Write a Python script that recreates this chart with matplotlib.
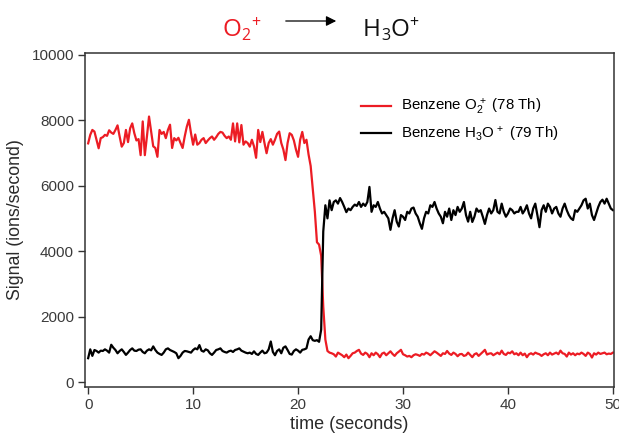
import numpy as np
import matplotlib
matplotlib.use("Agg")
import matplotlib.pyplot as plt

# ---------------- data ----------------
dt = 0.2
o2_signal = [
    7290, 7550, 7700, 7650, 7400, 7140, 7450, 7480, 7550, 7520,
    7690, 7620, 7580, 7700, 7840, 7500, 7190, 7300, 7700, 7330,
    7750, 7900, 7600, 7380, 7420, 6930, 7960, 6930, 7500, 8110,
    7650, 7200, 7150, 6880, 7700, 7580, 7640, 7450, 7700, 7860,
    7150, 7450, 7380, 7460, 7300, 7150, 7500, 7800, 8010, 7600,
    7250, 7560, 7250, 7300, 7400, 7450, 7300, 7380, 7450, 7500,
    7400, 7480, 7580, 7640, 7620, 7520, 7450, 7500, 7400, 7900,
    7350, 7900, 7320, 7850, 7250, 7350, 7300, 7190, 7400, 7200,
    6850, 7700, 7330, 7640, 7300, 6990, 7300, 7420, 7250, 7400,
    7580, 7650, 7300, 7100, 6780, 7300, 7600, 7550, 7380, 7100,
    6880, 7400, 7640, 7300, 7400, 6950, 6600, 5900, 5200, 4270,
    4200, 3860, 2300, 1300, 950, 900, 880,
    850, 780, 900, 860, 820, 760, 840, 730, 800, 880,
    900, 950, 985, 870, 830, 900, 860, 760, 880, 820,
    900, 850, 760, 870, 900, 820, 880, 940, 860, 800,
    880, 930, 985, 850, 820, 780, 800, 760, 820, 850,
    830, 800, 860, 840, 900, 870, 820, 880, 940, 900,
    850, 800, 880, 860, 950, 870, 830, 900, 860, 790,
    850, 860, 800, 820, 900, 830, 760, 850, 880, 800,
    860, 920, 985, 840, 870, 880, 820, 860, 900, 850,
    960, 860, 830, 900, 880, 940, 850, 880, 820, 900,
    820, 870, 760, 850, 880, 840, 900, 870, 850, 800,
    850, 880, 820, 900, 840, 870, 900, 850, 960, 880,
    860, 780, 900, 840, 880, 820, 870, 850, 900, 860,
    800, 900, 860, 750, 880, 840, 900, 860, 880, 900,
    850, 870, 860, 900,
]
h3o_signal = [
    730, 1000, 800, 980, 950, 900, 960, 950, 1000, 960,
    900, 1140, 1050, 980, 880, 950, 1000, 920, 830, 900,
    980, 1030, 960, 950, 990, 1000, 920, 880, 960, 1000,
    970, 1090, 980, 900, 860, 830, 900, 1000, 1030, 980,
    950, 920, 880, 730, 800, 900, 950, 940, 920, 900,
    980, 1030, 1000, 1130, 960, 930, 1000, 970, 880, 830,
    900, 980, 1000, 1030, 950, 920, 900, 940, 960, 920,
    980, 1000, 1030, 960, 930, 900, 880, 900, 860, 940,
    860, 830, 900, 960, 880, 900, 1000, 1240, 920, 820,
    950, 1000, 880, 1050, 1090, 980, 860, 840, 950, 1000,
    960, 900, 985, 1000, 1030, 1300, 1400, 1280, 1260, 1280,
    1230, 1600,
    4600, 5400, 5000, 5550, 5250, 5500, 5550, 5450, 5620, 5500,
    5350, 5190, 5300, 5250, 5350, 5420, 5380, 5500, 5350, 5450,
    5380, 5500, 5960, 5200, 5400, 5350, 5500, 5300, 5150, 5200,
    5100, 5000, 4650, 5000, 5250, 4900, 4750, 5100, 5050, 4950,
    5200, 5150, 5300, 5330, 5150, 5050, 4850, 4680, 5000, 5200,
    5150, 5400, 5350, 5500, 5300, 5150, 5050, 4850, 5200, 5050,
    5300, 4950, 5250, 5100, 5350, 5200, 5300, 5500, 5100, 4900,
    5200, 4890, 5050, 5300, 5200, 5250, 5050, 4830, 5100, 5300,
    5150, 5250, 5560, 5200, 5150, 5450, 5200, 5050, 5150, 5300,
    5250, 5150, 5200, 5200, 5350, 5150, 5250, 5400, 5150, 5000,
    5300, 5450, 5100, 4730, 5250, 5400, 5200, 5450, 5350, 5150,
    5300, 5350, 5150, 5050, 5300, 5450, 5250, 5100, 5000, 4950,
    5250, 5200, 5300, 5400, 5550, 5600, 5300, 5450, 5100, 4950,
    5150, 5350, 5500, 5570, 5450, 5600, 5450, 5300, 5250,
]
series_labels = [r"Benzene O$_2^{\,+}$ (78 Th)", r"Benzene H$_3$O$^{\,+}$ (79 Th)"]
x_ticks = [0, 10, 20, 30, 40, 50]
y_ticks = [0, 2000, 4000, 6000, 8000, 10000]

t_o2 = np.arange(len(o2_signal)) * dt
t_h3o = np.arange(len(h3o_signal)) * dt

# ---------------- style ----------------
plt.rcParams['font.family'] = ['Liberation Sans', 'DejaVu Sans']
plt.rcParams['mathtext.fontset'] = 'custom'
plt.rcParams['mathtext.rm'] = 'Liberation Sans'
plt.rcParams['mathtext.it'] = 'Liberation Sans'
plt.rcParams['mathtext.bf'] = 'Liberation Sans'

RED = '#ec1c24'
W, H = 619, 437
fig = plt.figure(figsize=(W / 100, H / 100), dpi=100)
ax = fig.add_axes([85 / W, 1 - 387 / H, (614 - 85) / W, (387 - 53) / H])

ax.plot(t_o2, o2_signal, color=RED, lw=1.6, label=series_labels[0])
ax.plot(t_h3o, h3o_signal, color='black', lw=1.6, label=series_labels[1])

ax.set_xlim(-0.3, 50.1)
ax.set_ylim(-150, 10050)
ax.set_xticks(x_ticks)
ax.set_yticks(y_ticks)
ax.tick_params(axis='both', direction='out', length=5, width=1, colors='#333333',
               labelsize=11, labelcolor='#3a3a3a', pad=3)
for s in ax.spines.values():
    s.set_color('#333333')
    s.set_linewidth(1.1)

ax.set_xlabel('time (seconds)', fontsize=13, color='#2a2a2a', labelpad=3)
ax.set_ylabel('Signal (ions/second)', fontsize=12.8, color='#2a2a2a', labelpad=5)

leg = ax.legend(loc='upper left', bbox_to_anchor=(0.51, 0.885), frameon=False,
                fontsize=10.8, handlelength=2.0, handletextpad=0.7,
                labelspacing=0.5, borderaxespad=0)

# ---------------- title: O2+ ---> H3O+ ----------------
fig.canvas.draw()
renderer = fig.canvas.get_renderer()

def chain(x0, pieces, color):
    """pieces: (text, size, baseline_y_px, gap_after_px)"""
    x = x0
    for s, size, yb, gap in pieces:
        t = fig.text(x / W, 1 - yb / H, s, fontsize=size, color=color,
                     family='Open Sans', ha='left', va='baseline')
        bb = t.get_window_extent(renderer=renderer)
        x += bb.width + gap

chain(222, [('O', 17.5, 36, 0), ('2', 11.5, 40, 1), ('+', 11.5, 27, 0)], RED)
chain(363, [('H', 17.5, 36, 0), ('3', 11.5, 40, 0), ('O', 17.5, 36, 0), ('+', 11.5, 27, 0)], '#111111')

fig.add_artist(matplotlib.patches.FancyArrowPatch(
    (283 / W, 1 - 21 / H), (339 / W, 1 - 21 / H), transform=fig.transFigure,
    arrowstyle='-|>,head_length=6,head_width=3', color='black', lw=0.9,
    mutation_scale=1))

fig.savefig('out.png', dpi=100)
